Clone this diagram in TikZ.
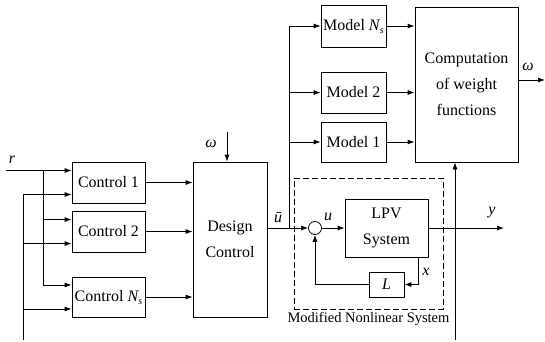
\documentclass[tikz,border=0pt]{standalone}
\usepackage{fontspec}
\setmainfont{Liberation Serif}
\usetikzlibrary{positioning, calc, arrows.meta}

\newcommand{\Nsub}{\textit{N}\kern-0.5pt\raisebox{-3pt}{\fontsize{10}{10}\selectfont\textit{s}}}

\begin{document}
\begin{tikzpicture}[thick, x=1pt, y=-1pt,
    font=\fontsize{16}{26}\selectfont,
    block/.style={draw, align=center, inner sep=0pt},
    sig/.style={-{Latex[length=7pt,width=5pt]}},
    lbl/.style={font=\fontsize{16}{16}\selectfont\itshape, inner sep=0pt}]
    \useasboundingbox (0,0) rectangle (545,341);

    % Controller bank
    \node[block, minimum width=73pt, minimum height=41pt] (ctrl1) at (108.5,182.5) {Control 1};
    \node[block, minimum width=73pt, minimum height=41pt] (ctrl2) at (108.5,231.5) {Control 2};
    \node[block, minimum width=73pt, minimum height=40pt] (ctrlN) at (108.5,297) {Control \Nsub};
    \node[block, minimum width=74pt, minimum height=155pt] (design) at (230,239.5) {Design\\Control};

    % Model bank
    \node[block, minimum width=65pt, minimum height=42pt] (modelN) at (353.5,26) {Model \Nsub};
    \node[block, minimum width=65pt, minimum height=41pt] (model2) at (353.5,92.5) {Model 2};
    \node[block, minimum width=65pt, minimum height=40pt] (model1) at (353.5,142) {Model 1};
    \node[block, minimum width=103pt, minimum height=155pt] (comp) at (466.5,84.5) {Computation\\of weight\\functions};

    % Modified nonlinear system
    \node[draw, dash pattern=on 6pt off 3pt, minimum width=149pt, minimum height=131pt, inner sep=0pt] (nlsys) at (368.5,243.5) {};
    \node[below=2pt of nlsys, font=\fontsize{14.5}{14.5}\selectfont, inner sep=0pt] (nllbl) {Modified Nonlinear System};
    \node[draw, circle, minimum size=13pt, inner sep=0pt] (sum) at (315,228) {};
    \node[block, minimum width=83pt, minimum height=58pt] (lpv) at (386.5,228) {LPV\\System};
    \node[block, minimum width=35pt, minimum height=25pt] (lbox) at (386.5,284.5) {\textit{L}};

    % Free ends and branch points
    \coordinate (rin) at (6,170.5);
    \coordinate (rsplit) at (43,170.5);
    \coordinate (xin) at (23,340);
    \coordinate (win) at (227,132);
    \coordinate (usplit) at (289,228);
    \coordinate (wout) at (545,80);
    \coordinate (yout) at (504,228);
    \coordinate (pin) at (455,340);
    \coordinate (xfb) at (418,284.5);

    % Controller inputs
    \coordinate (c1r) at ([yshift=12pt]ctrl1.west);
    \coordinate (c1m) at ([yshift=-12pt]ctrl1.west);
    \coordinate (c2r) at ([yshift=12pt]ctrl2.west);
    \coordinate (c2m) at ([yshift=-12pt]ctrl2.west);
    \coordinate (cNr) at ([yshift=12pt]ctrlN.west);
    \coordinate (cNm) at ([yshift=-12pt]ctrlN.west);

    \draw[sig] (rin) -- (c1r);
    \draw (rsplit) -- (rsplit |- cNr);
    \draw[sig] (rsplit |- c2r) -- (c2r);
    \draw[sig] (rsplit |- cNr) -- (cNr);
    \draw (xin) -- (xin |- c1m);
    \draw[sig] (xin |- c1m) -- (c1m);
    \draw[sig] (xin |- c2m) -- (c2m);
    \draw[sig] (xin |- cNm) -- (cNm);
    \node[lbl] (rlbl) at (12,160) {r};

    % Controllers to design block
    \draw[sig] (ctrl1) -- (ctrl1 -| design.west);
    \draw[sig] (ctrl2) -- (ctrl2 -| design.west);
    \draw[sig] (ctrlN) -- (ctrlN -| design.west);
    \draw[sig] (win) -- (win |- design.north);
    \node[lbl] (wlbl) at (211,144) {ω};

    % Control signal to plant and models
    \draw[sig] (design.east |- sum) -- (sum);
    \node[lbl] (ubarlbl) at (278,218) {ū};
    \draw (usplit) -- (usplit |- modelN);
    \draw[sig] (usplit |- modelN) -- (modelN);
    \draw[sig] (usplit |- model2) -- (model2);
    \draw[sig] (usplit |- model1) -- (model1);

    % Models to weight computation
    \draw[sig] (modelN) -- (modelN -| comp.west);
    \draw[sig] (model2) -- (model2 -| comp.west);
    \draw[sig] (model1) -- (model1 -| comp.west);
    \draw[sig] (comp.east |- wout) -- (wout);
    \node[lbl] (woutlbl) at (528,67) {ω};
    \draw[sig] (pin) -- (pin |- comp.south);

    % Plant loop
    \draw[sig] (sum) -- (lpv);
    \node[lbl] (ulbl) at (328,217) {u};
    \draw[sig] (lpv) -- (yout);
    \node[lbl] (ylbl) at (492,213) {y};
    \draw[sig] (xfb |- lpv.south) -- (xfb) -- (lbox.east);
    \node[lbl] (xlbl) at (426,272) {x};
    \draw[sig] (lbox.west) -- (lbox.west -| sum) -- (sum.south);
\end{tikzpicture}
\end{document}
